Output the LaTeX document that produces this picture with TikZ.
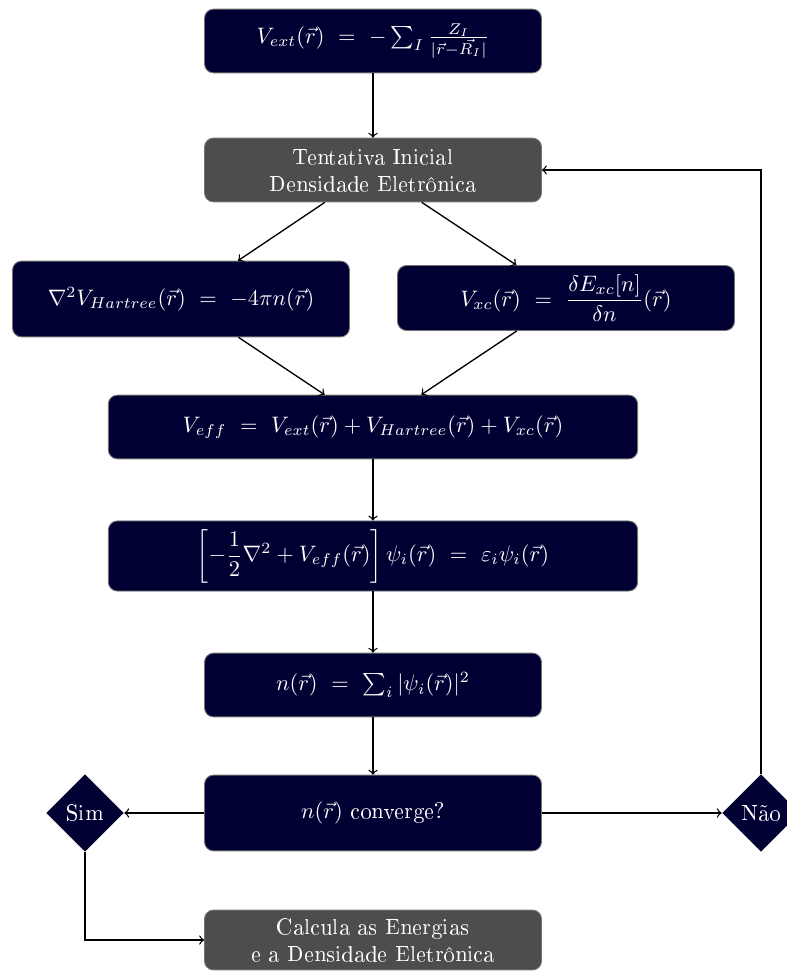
\documentclass[tikz,border=0pt]{standalone}
\usepackage[T1]{fontenc}
\usepackage{amsmath}
\usetikzlibrary{shapes.geometric}
\definecolor{azulnoite}{RGB}{0,0,51}
\definecolor{cinzaescuro}{RGB}{77,77,77}
\begin{document}
\begin{tikzpicture}[
      x=0.0157cm, y=-0.0157cm,
      seta/.style={semithick, draw=black, ->},
      caixa/.style={rectangle, rounded corners=4pt, fill=azulnoite, draw=black!55,
        text=white, text centered, minimum width=5.29cm, minimum height=1cm},
      larga/.style={caixa, minimum width=8.31cm},
      inicio/.style={caixa, fill=cinzaescuro, align=center},
      losango/.style={diamond, aspect=1, fill=azulnoite, text=white,
        inner sep=0pt, minimum width=1.22cm, minimum height=1.22cm}
    ]
    \useasboundingbox (0,0) rectangle (786,974);
    \path (373,41)  node(ext) [caixa] {$V_{ext}(\vec{r})\ =\ -\sum_I \frac{Z_I}{|\vec{r}-\vec{R_I}|}$}
    (373,170) node(ini) [inicio] {Tentativa Inicial\\Densidade Eletrônica}
    (181,299) node(har) [caixa, minimum height=1.19cm] {$\nabla^2 V_{Hartree}(\vec{r})\ =\ -4\pi n(\vec{r})$}
    (566,298) node(vxc) [caixa, minimum height=1.02cm] {$V_{xc}(\vec{r})\ =\ \dfrac{\delta E_{xc}[n]}{\delta n}(\vec{r})$}
    (373,427) node(eff) [larga] {$V_{eff}\ =\ V_{ext}(\vec{r}) + V_{Hartree}(\vec{r}) + V_{xc}(\vec{r})$}
    (373,556) node(ks)  [larga, minimum height=1.1cm] {$\left[-\dfrac{1}{2}\nabla^2 + V_{eff}(\vec{r})\right]\psi_i(\vec{r})\ =\ \varepsilon_i\psi_i(\vec{r})$}
    (373,685) node(den) [caixa] {$n(\vec{r})\ =\ \sum_i |\psi_i(\vec{r})|^2$}
    (373,813) node(conv) [caixa, minimum height=1.19cm] {$n(\vec{r})$ converge?}
    (85,813)  node(sim) [losango] {Sim}
    (761,813) node(nao) [losango] {Não}
    (373,940) node(calc) [inicio, minimum height=0.94cm] {Calcula as Energias\\e a Densidade Eletrônica};
    \draw[seta] (ext) -- (ini);
    \draw[seta] (ini) -- (har);
    \draw[seta] (ini) -- (vxc);
    \draw[seta] (har) -- (eff);
    \draw[seta] (vxc) -- (eff);
    \draw[seta] (eff) -- (ks);
    \draw[seta] (ks) -- (den);
    \draw[seta] (den) -- (conv);
    \draw[seta] (conv) -- (sim);
    \draw[seta] (conv) -- (nao);
    \draw[seta] (nao.north) |- (ini.east);
    \draw[seta] (sim.south) |- (calc.west);
  \end{tikzpicture}
\end{document}
